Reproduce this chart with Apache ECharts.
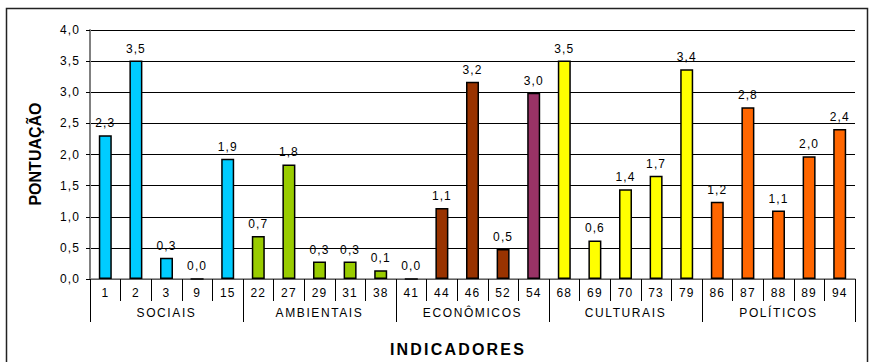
<!DOCTYPE html>
<html>
<head>
<meta charset="utf-8">
<script src="https://cdn.jsdelivr.net/npm/echarts@6/dist/echarts.min.js"></script>
<style>
  html, body { margin: 0; padding: 0; background: #fff; }
  #chart { width: 870px; height: 362px; }
  #chart text { letter-spacing: 1.1px; }
</style>
</head>
<body>
<div id="chart"></div>
<script>
// ---- data ----
const indicators = ['1','2','3','9','15','22','27','29','31','38','41','44','46','52','54','68','69','70','73','79','86','87','88','89','94'];
const scores = [2.31,3.51,0.34,0,1.93,0.69,1.84,0.28,0.28,0.14,0,1.14,3.17,0.48,2.99,3.51,0.62,1.44,1.66,3.37,1.24,2.76,1.10,1.97,2.41];
const groups = ['SOCIAIS','AMBIENTAIS','ECONÔMICOS','CULTURAIS','POLÍTICOS'];
const groupOfIndicator = [0,0,0,0,0,1,1,1,1,1,2,2,2,2,2,3,3,3,3,3,4,4,4,4,4];
const yTicks = [0,0.5,1,1.5,2,2.5,3,3.5,4];

// ---- styles ----
const groupColors = ['#00CCFF','#99CC00','#993300','#FFFF00','#FF6600'];
const specialColors = { '54': '#993366' };
const FONT = "'Liberation Sans', Arial, sans-serif";
const fmt = v => Number(v).toFixed(1).replace('.', ',');

const chart = echarts.init(document.getElementById('chart'), null, { renderer: 'svg' });

const barData = scores.map((v, i) => ({
  value: v,
  itemStyle: { color: specialColors[indicators[i]] || groupColors[groupOfIndicator[i]] }
}));

chart.setOption({
  animation: false,
  backgroundColor: '#fff',
  grid: { left: 90, right: 15, top: 30, bottom: 83, containLabel: false },
  xAxis: [
    {
      type: 'category',
      data: indicators,
      axisLine: { show: true, lineStyle: { color: '#808080', width: 1.5 } },
      axisTick: { show: true, interval: 0, length: 22, lineStyle: { color: '#000', width: 1 } },
      axisLabel: { interval: 0, margin: 8, fontSize: 12, color: '#000', fontFamily: FONT },
      splitLine: { show: false }
    },
    {
      type: 'category',
      data: groups,
      position: 'bottom',
      axisLine: { show: false },
      axisTick: { show: true, interval: 0, length: 43, lineStyle: { color: '#000', width: 1 } },
      axisLabel: { interval: 0, margin: 28, fontSize: 12, color: '#000', fontFamily: FONT },
      splitLine: { show: false }
    }
  ],
  yAxis: {
    type: 'value',
    min: 0,
    max: 4,
    interval: 0.5,
    axisLine: { show: true, lineStyle: { color: '#808080', width: 2 } },
    axisTick: { show: true, length: 4, lineStyle: { color: '#000' } },
    axisLabel: { formatter: v => fmt(v), margin: 10, fontSize: 12, color: '#000', fontFamily: FONT,
                 customValues: yTicks },
    splitLine: { show: true, lineStyle: { color: '#000', width: 1 } }
  },
  series: [{
    type: 'bar',
    xAxisIndex: 0,
    data: barData,
    barWidth: 13,
    itemStyle: { borderColor: '#000', borderWidth: 1.5 },
    label: {
      show: true,
      position: 'top',
      distance: 6,
      fontSize: 12,
      color: '#000',
      fontFamily: FONT,
      formatter: p => fmt(p.value)
    }
  }],
  graphic: [
    {
      type: 'rect',
      shape: { x: 6.5, y: 8.5, width: 861, height: 400 },
      style: { fill: 'none', stroke: '#222', lineWidth: 1.5 },
      silent: true
    },
    {
      type: 'text',
      id: 'xtitle',
      x: 458, y: 349,
      style: { text: 'INDICADORES', font: "bold 16px 'Liberation Sans', Arial, sans-serif",
               fill: '#000', align: 'center', verticalAlign: 'middle' }
    },
    {
      type: 'text',
      id: 'ytitle',
      x: 35, y: 154,
      rotation: Math.PI / 2,
      style: { text: 'PONTUAÇÃO', font: "bold 16px 'Liberation Sans', Arial, sans-serif",
               fill: '#000', align: 'center', verticalAlign: 'middle' }
    }
  ]
});

function tuneSpacing() {
  document.querySelectorAll('#chart text').forEach(t => {
    const s = t.textContent;
    if (s === 'PONTUAÇÃO') t.style.letterSpacing = '0px';
    else if (s === 'INDICADORES') t.style.letterSpacing = '2.2px';
    else if (groups.indexOf(s) >= 0) t.style.letterSpacing = '1.6px';
  });
}
tuneSpacing();
chart.on('finished', tuneSpacing);
</script>
</body>
</html>
